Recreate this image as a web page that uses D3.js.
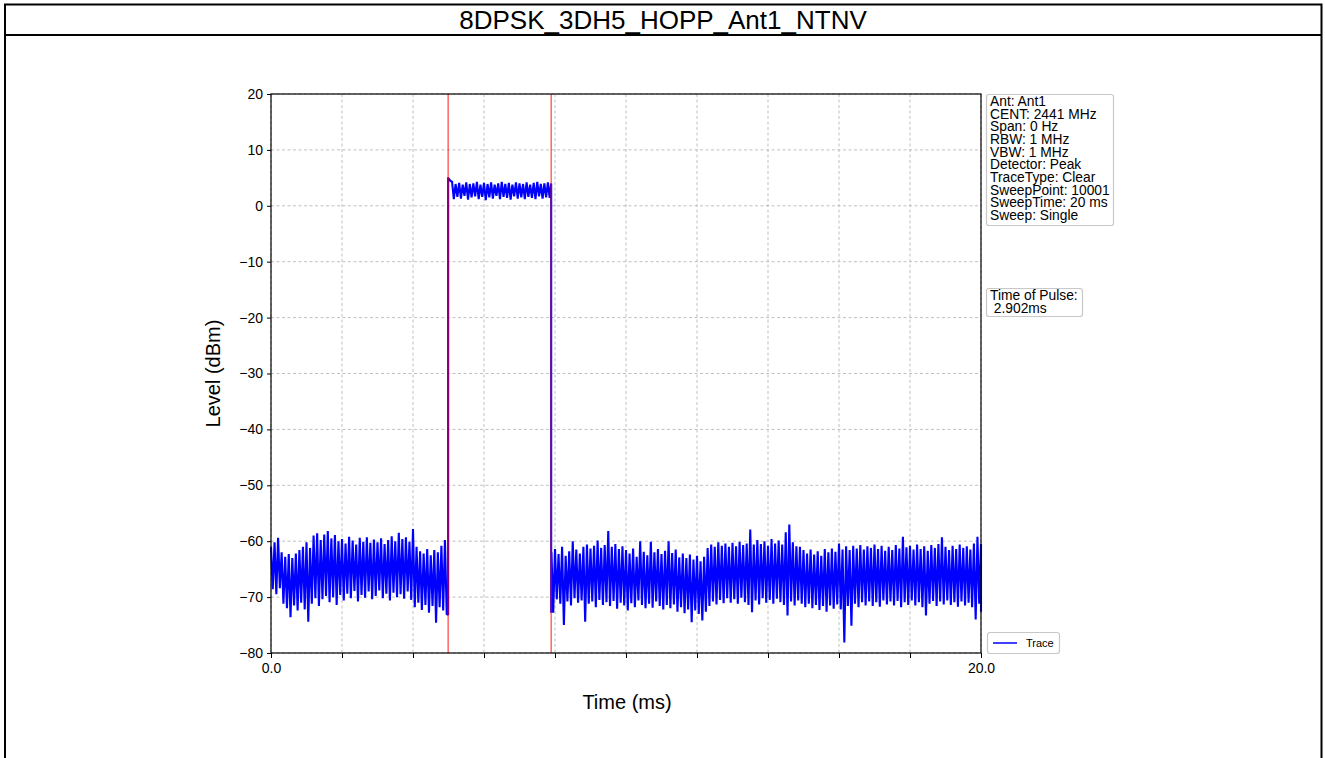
<!DOCTYPE html>
<html>
<head>
<meta charset="utf-8">
<script src="https://cdn.jsdelivr.net/npm/d3@7"></script>
<style>
  body { margin: 0; background: #fff; }
  svg { display: block; font-family: "Liberation Sans", Arial, sans-serif; }
</style>
</head>
<body>
<svg id="chart" width="1325" height="758"></svg>
<script>
// ---------------- DATA ----------------
const chartTitle = "8DPSK_3DH5_HOPP_Ant1_NTNV";
const xLabel = "Time (ms)";
const yLabel = "Level (dBm)";
const xDomain = [0, 20];
const yDomain = [-80, 20];
const yTickValues = [20, 10, 0, -10, -20, -30, -40, -50, -60, -70, -80];
const xTickValues = [0, 2, 4, 6, 8, 10, 12, 14, 16, 18, 20];
const xTickLabels = { 0: "0.0", 20: "20.0" };
const infoLines = ["Ant: Ant1", "CENT: 2441 MHz", "Span: 0 Hz", "RBW: 1 MHz", "VBW: 1 MHz",
  "Detector: Peak", "TraceType: Clear", "SweepPoint: 10001", "SweepTime: 20 ms", "Sweep: Single"];
const pulseLines = ["Time of Pulse:", " 2.902ms"];
const legendLabel = "Trace";
// marker lines (ms)
const markerTimes = [4.99, 7.892];

const sampleStep = 0.1;
const traceHigh = [
  // 0.0 - 4.9 ms (noise)
  -61.0,-60.2,-59.4,-62.0,-62.8,-62.3,-63.0,-62.2,-61.6,-61.0,
  -60.2,-61.2,-59.0,-58.6,-59.8,-58.8,-58.2,-59.5,-58.9,-60.0,
  -59.6,-60.4,-59.2,-59.9,-60.6,-59.4,-60.1,-59.3,-60.3,-59.7,
  -60.2,-59.5,-60.5,-59.8,-59.1,-60.0,-58.5,-59.6,-59.3,-60.1,
  -57.8,-61.0,-61.8,-62.2,-61.4,-62.5,-61.6,-62.0,-60.8,-59.8,
  // 5.0 - 7.8 ms (pulse)
  4.9,4.3,3.9,4.1,3.8,4.2,3.9,4.0,4.3,3.8,
  4.1,3.9,4.2,3.8,4.0,4.3,3.9,4.1,3.8,4.2,
  4.0,3.9,4.2,3.8,4.1,4.3,3.9,4.0,4.2,
  // 7.9 - 20.0 ms (noise)
  -62.0,
  -61.4,-62.3,-61.0,-62.6,-61.8,-60.0,-61.5,-62.2,-61.0,-60.6,
  -61.3,-60.8,-59.9,-61.2,-60.7,-58.2,-61.0,-60.5,-61.4,-60.9,
  -61.6,-62.2,-61.3,-62.8,-60.0,-61.9,-62.5,-60.1,-62.0,-61.4,
  -62.3,-61.7,-60.0,-62.1,-61.5,-62.9,-62.2,-63.0,-62.4,-63.3,
  -62.6,-63.6,-62.8,-61.2,-60.6,-61.0,-60.2,-60.8,-60.4,-61.0,
  -60.3,-60.9,-60.1,-60.7,-60.4,-57.9,-60.6,-59.8,-60.5,-60.0,
  -60.8,-59.6,-60.4,-59.9,-60.6,-58.4,-57.0,-60.2,-60.9,-61.0,
  -61.6,-62.2,-61.5,-62.4,-61.8,-62.6,-61.4,-62.0,-61.3,-61.9,
  -60.4,-61.5,-60.9,-61.6,-60.8,-61.3,-60.7,-61.5,-60.9,-61.2,
  -60.6,-61.4,-60.8,-61.7,-61.0,-61.6,-60.7,-61.3,-59.2,-61.1,
  -60.8,-61.5,-60.6,-61.4,-60.9,-61.7,-60.7,-61.2,-60.5,-59.3,
  -61.0,-61.6,-60.8,-61.4,-60.6,-61.2,-60.9,-61.5,-60.4,-59.2,
  -60.5
];
const traceLow = [
  // 0.0 - 4.9 ms
  -68.6,-69.5,-68.4,-71.2,-72.0,-73.6,-71.5,-72.4,-71.0,-72.2,
  -74.4,-71.2,-70.2,-71.6,-70.4,-69.8,-70.9,-70.0,-71.4,-69.6,
  -70.6,-69.4,-70.2,-68.9,-70.8,-69.6,-70.1,-69.0,-70.4,-69.8,
  -68.8,-70.2,-69.4,-70.6,-69.2,-70.0,-69.5,-70.3,-69.0,-70.5,
  -71.8,-71.0,-72.3,-71.4,-72.8,-71.6,-74.6,-71.8,-72.4,-73.0,
  // 5.0 - 7.8 ms
  4.5,1.2,1.6,1.3,1.8,1.1,1.5,1.7,1.2,1.6,
  1.0,1.5,1.3,1.8,1.2,1.6,1.4,1.1,1.7,1.3,
  1.5,1.2,1.6,1.4,1.2,1.7,1.3,1.5,1.4,
  // 7.9 - 20.0 ms
  -72.8,
  -70.4,-71.2,-75.0,-70.8,-71.5,-70.2,-71.0,-70.6,-74.4,-71.2,
  -70.8,-71.8,-70.5,-71.4,-70.9,-71.6,-70.7,-72.1,-71.0,-71.5,
  -72.4,-71.1,-71.8,-70.6,-71.4,-72.0,-71.2,-71.9,-70.8,-71.6,
  -72.2,-71.4,-72.0,-71.3,-72.6,-71.8,-72.9,-72.2,-74.5,-72.4,
  -73.0,-74.2,-72.6,-71.6,-70.8,-71.3,-70.5,-71.1,-70.2,-71.0,
  -70.4,-71.2,-70.1,-70.9,-71.4,-72.7,-70.6,-71.3,-70.2,-71.0,
  -70.5,-71.2,-70.3,-70.9,-71.4,-73.3,-70.8,-71.5,-70.6,-71.2,
  -71.8,-71.2,-72.0,-71.4,-72.3,-71.6,-72.6,-71.5,-72.1,-71.3,
  -72.2,-78.1,-71.6,-75.1,-71.2,-71.8,-70.9,-71.5,-70.8,-71.6,
  -70.9,-71.7,-70.6,-71.3,-70.8,-71.5,-70.7,-71.8,-70.9,-71.4,
  -70.6,-71.5,-70.9,-71.8,-73.3,-71.2,-70.7,-71.6,-70.8,-71.3,
  -70.6,-71.4,-70.9,-71.7,-70.8,-71.5,-71.0,-71.8,-74.0,-71.2,
  -72.6
];
// edges of the pulse: [time, from level, to level]
const pulseEdges = [[4.99, -73.2, 4.9], [7.892, 4.0, -72.8]];

// ---------------- DRAW ----------------
const svg = d3.select("#chart");
const W = 1325, H = 758;
const m = { left: 271, right: 981, top: 94, bottom: 653 };

// outer frame + title
svg.append("rect").attr("x", 0).attr("y", 0).attr("width", W).attr("height", H).attr("fill", "#fff");
svg.append("path")
  .attr("d", `M5,${H + 5} V4.5 H1321.5 V${H + 5}`)
  .attr("fill", "none").attr("stroke", "#000").attr("stroke-width", 2);
svg.append("line").attr("x1", 5).attr("x2", 1321.5).attr("y1", 35).attr("y2", 35)
  .attr("stroke", "#000").attr("stroke-width", 2);
svg.append("text").attr("x", 663).attr("y", 29).attr("text-anchor", "middle")
  .attr("font-size", 26).attr("fill", "#000").text(chartTitle);

const x = d3.scaleLinear().domain(xDomain).range([m.left, m.right]);
const y = d3.scaleLinear().domain(yDomain).range([m.bottom, m.top]);

// grid
const grid = svg.append("g").attr("stroke", "#b0b0b0").attr("stroke-width", 0.8).attr("stroke-dasharray", "3,2.5");
grid.selectAll(".gx").data(xTickValues).join("line")
  .attr("x1", d => x(d)).attr("x2", d => x(d)).attr("y1", m.top).attr("y2", m.bottom);
grid.selectAll(".gy").data(yTickValues).join("line")
  .attr("x1", m.left).attr("x2", m.right).attr("y1", d => y(d)).attr("y2", d => y(d));

// trace: polyline that swings between the upper and lower extreme of each sample bin
const samples = traceHigh.map((h, i) => ({ t: +(i * sampleStep).toFixed(3), hi: h, lo: traceLow[i] }));
const segs = [
  samples.filter(d => d.t < markerTimes[0]),
  samples.filter(d => d.t > markerTimes[0] && d.t < markerTimes[1]),
  samples.filter(d => d.t > markerTimes[1])
];
const half = sampleStep / 2;
const pts = [];
segs[0].forEach(d => { pts.push([d.t, d.hi]); pts.push([d.t + half, d.lo]); });
pts.push([pulseEdges[0][0], pulseEdges[0][1]]);
pts.push([pulseEdges[0][0], pulseEdges[0][2]]);
segs[1].forEach(d => { pts.push([d.t, d.hi]); pts.push([d.t + half, d.lo]); });
pts.push([pulseEdges[1][0], pulseEdges[1][1]]);
pts.push([pulseEdges[1][0], pulseEdges[1][2]]);
segs[2].forEach(d => {
  pts.push([d.t, d.hi]);
  pts.push([Math.min(d.t + half, xDomain[1]), d.lo]);
});
const line = d3.line().x(d => x(d[0])).y(d => y(d[1]));
svg.append("path").attr("d", line(pts)).attr("fill", "none")
  .attr("stroke", "#0000ff").attr("stroke-width", 2.1).attr("stroke-linejoin", "miter").attr("stroke-miterlimit", 2);

// markers
svg.append("g").selectAll("line").data(markerTimes).join("line")
  .attr("x1", d => x(d)).attr("x2", d => x(d)).attr("y1", m.top).attr("y2", m.bottom)
  .attr("stroke", "#ff0000").attr("stroke-opacity", 0.7).attr("stroke-width", 1.3);

// axes
const axL = svg.append("g").attr("transform", `translate(${m.left},0)`)
  .call(d3.axisLeft(y).tickValues(yTickValues).tickSize(4).tickPadding(4)
    .tickFormat(d => d < 0 ? "\u2212" + Math.abs(d) : String(d)));
const axB = svg.append("g").attr("transform", `translate(0,${m.bottom})`)
  .call(d3.axisBottom(x).tickValues(xTickValues).tickSize(5).tickPadding(5)
    .tickFormat(d => xTickLabels[d] || ""));
[axL, axB].forEach(a => {
  a.select(".domain").remove();
  a.selectAll("line").attr("stroke", "#000").attr("stroke-width", 1);
  a.selectAll("text").attr("font-size", 14).attr("fill", "#000").attr("font-family", "'Liberation Sans', Arial, sans-serif");
});
svg.append("rect").attr("x", m.left).attr("y", m.top).attr("width", m.right - m.left).attr("height", m.bottom - m.top)
  .attr("fill", "none").attr("stroke", "#000").attr("stroke-width", 1.2);

// axis labels
svg.append("text").attr("x", 627).attr("y", 709).attr("text-anchor", "middle").attr("font-size", 20).text(xLabel);
svg.append("text").attr("transform", `translate(220,${(m.top + m.bottom) / 2}) rotate(-90)`)
  .attr("text-anchor", "middle").attr("font-size", 20).text(yLabel);

// info boxes
function textBox(lines, bx, by, bw, bh, fs, lh) {
  svg.append("rect").attr("x", bx).attr("y", by).attr("width", bw).attr("height", bh)
    .attr("rx", 2.5).attr("fill", "#fff").attr("stroke", "#c8c8c8").attr("stroke-width", 1.2);
  svg.append("g").selectAll("text").data(lines).join("text")
    .attr("x", bx + 3.5).attr("y", (d, i) => by + fs * 0.82 + i * lh)
    .attr("font-size", fs).attr("fill", "#000").attr("xml:space", "preserve")
    .style("white-space", "pre").text(d => d);
}
textBox(infoLines, 986.5, 94.5, 127, 131, 13.8, 12.7);
textBox(pulseLines, 986.5, 288.5, 96, 28, 13.8, 12.7);

// legend
const lg = svg.append("g");
lg.append("rect").attr("x", 987.5).attr("y", 632.5).attr("width", 72).attr("height", 21)
  .attr("rx", 2.5).attr("fill", "#fff").attr("stroke", "#c8c8c8").attr("stroke-width", 1.2);
lg.append("line").attr("x1", 993).attr("x2", 1017).attr("y1", 643).attr("y2", 643)
  .attr("stroke", "#0000ff").attr("stroke-width", 1.5);
lg.append("text").attr("x", 1026).attr("y", 647).attr("font-size", 11).text(legendLabel);
</script>
</body>
</html>
